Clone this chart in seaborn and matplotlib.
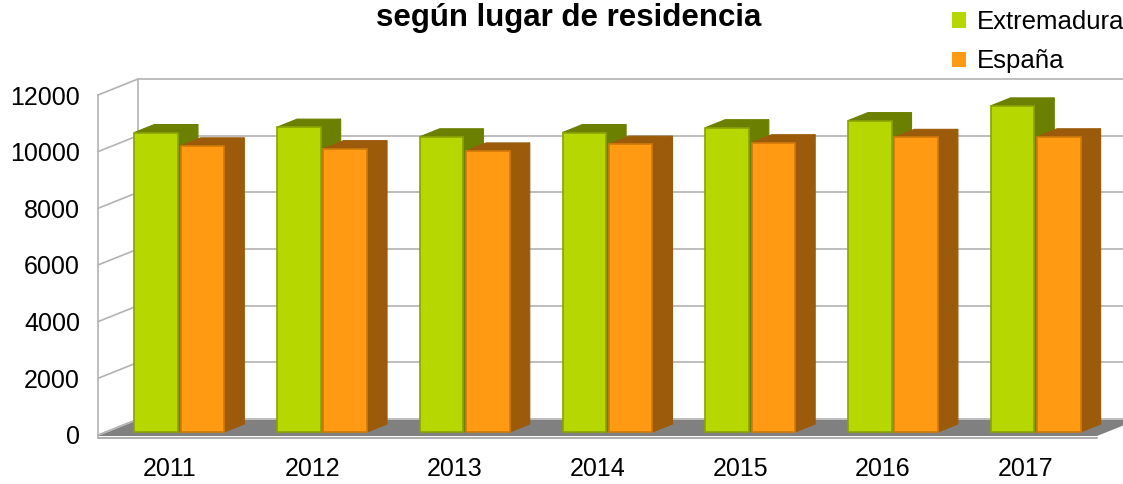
import numpy as np
import pandas as pd
import matplotlib
matplotlib.use("Agg")
import matplotlib.pyplot as plt
import seaborn as sns
from matplotlib.patches import Polygon, Patch
from matplotlib.lines import Line2D
from matplotlib.transforms import ScaledTranslation, IdentityTransform

# ---- data ----
years = ["2011", "2012", "2013", "2014", "2015", "2016", "2017"]
extremadura = [10570, 10760, 10420, 10570, 10740, 10990, 11510]
espana = [10100, 10000, 9920, 10160, 10210, 10400, 10420]
series_names = ["Extremadura", "España"]
yticks = [0, 2000, 4000, 6000, 8000, 10000, 12000]
title = "según lugar de residencia"

# ---- style ----
front_cols = ["#b6d800", "#ff9a12"]
edge_cols = ["#8aa300", "#d07a0a"]
dark_cols = ["#6b8000", "#9c5b0b"]
grid_col = "#b3b3b3"

sns.set_theme(style="white")
plt.rcParams['font.family'] = ['Liberation Sans', 'DejaVu Sans']
plt.rcParams['text.color'] = 'black'

DPI = 100
W, H = 1123, 484
fig = plt.figure(figsize=(W / DPI, H / DPI), dpi=DPI)
fig.patch.set_facecolor("white")
ax = fig.add_axes([98 / W, 49 / H, 999 / W, 340 / H])
ax.set_facecolor("none")

df = pd.DataFrame({
    "year": years * 2,
    "value": extremadura + espana,
    "serie": [series_names[0]] * len(years) + [series_names[1]] * len(years),
})

sns.barplot(data=df, x="year", y="value", hue="serie", hue_order=series_names,
            palette=front_cols, width=0.65, gap=0.06, saturation=1,
            legend=False, ax=ax)

ax.set_xlim(-0.5, 6.5)
ax.set_ylim(0, 12000)
ax.set_yticks(yticks)
ax.set_yticklabels([str(v) for v in yticks])
ax.set_xlabel("")
ax.set_ylabel("")
for s in ax.spines.values():
    s.set_visible(False)
ax.tick_params(axis="y", length=0, pad=13, labelsize=18, colors="black")
ax.tick_params(axis="x", length=0, pad=16, labelsize=18, colors="black")
ax.grid(False)

fig.canvas.draw()

def px(x, y):
    return np.array(ax.transData.transform((x, y)))

D = np.array([40.0, 16.0])     # wall depth (display px)
B = np.array([20.0, 8.0])      # bar depth
S = np.array([10.0, 3.0])      # bar set-back

idt = IdentityTransform()
xl, xr = ax.get_xlim()

# back wall gridlines and left wall
for v in yticks:
    p = px(xl, v)
    q = px(xr, v)
    fig.add_artist(Line2D([p[0] + D[0], q[0] + D[0]], [p[1] + D[1], q[1] + D[1]],
                          transform=idt, color=grid_col, lw=1.2, zorder=1))
    fig.add_artist(Line2D([p[0], p[0] + D[0]], [p[1], p[1] + D[1]],
                          transform=idt, color=grid_col, lw=1.2, zorder=1))
p0 = px(xl, 0)
p1 = px(xl, 12000)
fig.add_artist(Line2D([p0[0], p1[0]], [p0[1] - 2, p1[1]], transform=idt,
                      color=grid_col, lw=1.2, zorder=1))
fig.add_artist(Line2D([p0[0] + D[0], p1[0] + D[0]], [p0[1] + D[1], p1[1] + D[1]],
                      transform=idt, color=grid_col, lw=1.2, zorder=1))

# floor
f0 = px(xl, 0) + np.array([0, -1])
f1 = px(xr, 0) + np.array([0, -1])
floor = Polygon([f0, f1, f1 + D, f0 + D], closed=True, transform=idt,
                facecolor="#808080", edgecolor="none", zorder=1.5)
fig.add_artist(floor)
fig.add_artist(Line2D([f0[0], f1[0]], [f0[1] - 1.5, f1[1] - 1.5], transform=idt,
                      color="#b0b0b0", lw=1.5, zorder=1.6))

# bars: shift front faces, add side and top faces
offset = ScaledTranslation(S[0] / DPI, S[1] / DPI, fig.dpi_scale_trans)
bars = sorted(ax.patches, key=lambda r: r.get_x())
green_rgb = matplotlib.colors.to_rgb(front_cols[0])
for k, r in enumerate(bars):
    i = 0 if np.allclose(r.get_facecolor()[:3], green_rgb, atol=0.02) else 1
    x0, w, h = r.get_x(), r.get_width(), r.get_height()
    br = px(x0 + w, 0) + S
    tl = px(x0, h) + S
    tr = px(x0 + w, h) + S
    z = 3 + 0.02 * k
    side = Polygon([br, tr, tr + B, br + B], closed=True, transform=idt,
                   facecolor=dark_cols[i], edgecolor=dark_cols[i], lw=0.8, zorder=z)
    top = Polygon([tl, tr, tr + B, tl + B], closed=True, transform=idt,
                  facecolor=dark_cols[i], edgecolor=dark_cols[i], lw=0.8, zorder=z)
    fig.add_artist(side)
    fig.add_artist(top)
    r.set_transform(r.get_data_transform() + offset)
    r.set_edgecolor(edge_cols[i])
    r.set_linewidth(1.2)
    r.set_zorder(z + 0.01)
    r.set_clip_on(False)
    r.remove()
    fig.add_artist(r)

# title
fig.text(569 / W, 1 - 26 / H, title, ha="center", va="baseline",
         fontsize=22.5, fontweight="bold", color="black")

# legend
handles = [Patch(facecolor=c, edgecolor="none") for c in front_cols]
leg = fig.legend(handles, series_names, loc="upper left",
                 bbox_to_anchor=(952 / W, 1 - 10 / H), frameon=False,
                 fontsize=18.5, handlelength=0.55, handleheight=0.55,
                 handletextpad=0.4, labelspacing=0.6, borderaxespad=0,
                 borderpad=0)
for t in leg.get_texts():
    t.set_color("black")

fig.savefig("out.png", dpi=DPI, facecolor="white")
